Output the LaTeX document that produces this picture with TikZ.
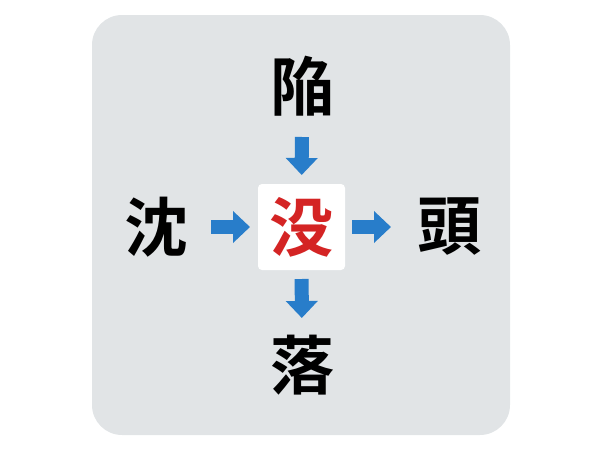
\documentclass[tikz,border=0pt]{standalone}
\usepackage{fontspec}
\newfontfamily\cjk{Noto Sans CJK JP}[BoldFont={* Bold}]
\usetikzlibrary{arrows.meta}

\definecolor{panelgray}{RGB}{225,228,230}
\definecolor{arrowblue}{RGB}{40,125,202}
\definecolor{kanjired}{RGB}{212,36,36}

\tikzset{
    kanji/.style={font=\cjk\bfseries\fontsize{64}{64}\selectfont, inner sep=0pt},
    arr/.style={line width=14pt, arrowblue, -{Triangle[length=17pt,width=31pt]}}
}

\begin{document}
\begin{tikzpicture}[x=1pt,y=-1pt]

    \useasboundingbox (0,0) rectangle (600,450);
    \fill [panelgray, rounded corners=30pt] (92,15) rectangle (510,435);

    \node [kanji, fill=white, text=kanjired, minimum width=87pt, minimum height=86pt,
           rounded corners=4pt] (mo) at (301.5,227) {没};
    \node [kanji] (kan)  at (302,86)  {陥};
    \node [kanji] (chin) at (156,227) {沈};
    \node [kanji] (tou)  at (449,227) {頭};
    \node [kanji] (raku) at (302,365) {落};

    \draw [arr, shorten <=51pt, shorten >=52pt] (kan.center) -- (mo.center);
    \draw [arr, shorten <=55pt, shorten >=51.5pt] (chin.center) -- (mo.center);
    \draw [arr, shorten <=50.5pt, shorten >=58pt] (mo.center) -- (tou.center);
    \draw [arr, shorten <=52pt, shorten >=47pt] (mo.center) -- (raku.center);

\end{tikzpicture}
\end{document}
